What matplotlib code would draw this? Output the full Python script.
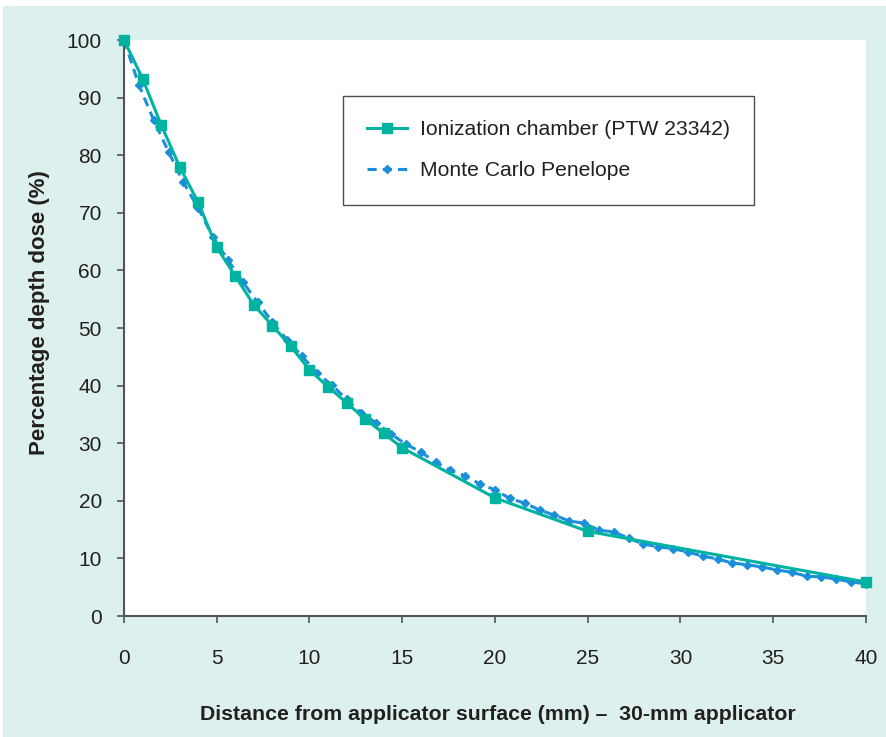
import matplotlib
matplotlib.use("Agg")
import matplotlib.pyplot as plt
from matplotlib.patches import Rectangle
import numpy as np

# ionization chamber measurements (PTW 23342)
chamber_x = [0, 1, 2, 3, 4, 5, 6, 7, 8, 9, 10, 11, 12, 13, 14, 15, 20, 25, 40]
chamber_y = [100, 93.3, 85.3, 78.0, 71.8, 64.0, 59.0, 54.0, 50.4, 46.8,
             42.7, 39.8, 37.0, 34.2, 31.7, 29.2, 20.5, 14.7, 5.9]

# Monte Carlo Penelope, 0.8 mm steps
mc_x = [0.0, 0.8, 1.6, 2.4, 3.2, 4.0, 4.8, 5.6, 6.4, 7.2, 8.0, 8.8, 9.6,
        10.4, 11.2, 12.0, 12.8, 13.6, 14.4, 15.2, 16.0, 16.8, 17.6, 18.4,
        19.2, 20.0, 20.8, 21.6, 22.4, 23.2, 24.0, 24.8, 25.6, 26.4, 27.2,
        28.0, 28.8, 29.6, 30.4, 31.2, 32.0, 32.8, 33.6, 34.4, 35.2, 36.0,
        36.8, 37.6, 38.4, 39.2, 40.0]
mc_y = [100, 92.2, 86.1, 80.6, 75.3, 70.8, 65.8, 61.8, 58.0, 54.5, 51.0,
        47.9, 45.1, 42.2, 40.1, 37.6, 35.2, 33.5, 31.6, 29.8, 28.5, 26.7,
        25.3, 24.3, 22.9, 21.9, 20.4, 19.6, 18.4, 17.5, 16.5, 16.1, 14.9,
        14.6, 13.5, 12.5, 12.0, 11.7, 11.1, 10.4, 9.9, 9.2, 8.9, 8.5, 8.0,
        7.6, 6.9, 6.8, 6.4, 5.9, 5.6]

x_ticks = [0, 5, 10, 15, 20, 25, 30, 35, 40]
y_ticks = [0, 10, 20, 30, 40, 50, 60, 70, 80, 90, 100]

teal = "#00b3a1"
blue = "#1b8fdb"
panel = "#dcf0ed"
txt = "#231f20"

plt.rcParams["font.family"] = ["Liberation Sans", "DejaVu Sans"]

W, H = 887, 737
fig = plt.figure(figsize=(W / 100, H / 100), dpi=100)
fig.patch.set_facecolor("white")
fig.patches.append(Rectangle((3 / W, 0), 1, 1 - 6 / H, transform=fig.transFigure,
                             facecolor=panel, edgecolor="none", zorder=-10))

ax = fig.add_axes([124 / W, 1 - 616 / H, (866 - 124) / W, (616 - 40) / H])
ax.set_facecolor("white")

ax.plot(mc_x, mc_y, color=blue, lw=2.2, linestyle=(0, (3, 2)),
        marker="D", markersize=4.5, clip_on=False, zorder=3,
        label="Monte Carlo Penelope")
ax.plot(chamber_x, chamber_y, color=teal, lw=2.2, marker="s",
        markersize=7.8, clip_on=False, zorder=4,
        label="Ionization chamber (PTW 23342)")

ax.set_xlim(0, 40)
ax.set_ylim(0, 100)
ax.set_xticks(x_ticks)
ax.set_yticks(y_ticks)

for s in ["top", "right"]:
    ax.spines[s].set_visible(False)
for s in ["left", "bottom"]:
    ax.spines[s].set_color("#555555")
    ax.spines[s].set_linewidth(1.5)

ax.tick_params(axis="x", direction="out", length=5, width=1.2, color="#555555",
               pad=19, labelsize=15, labelcolor=txt)
ax.tick_params(axis="y", direction="out", length=5, width=1.2, color="#555555",
               pad=11, labelsize=15, labelcolor=txt)

handles, labels = ax.get_legend_handles_labels()
leg = ax.legend(handles[::-1], labels[::-1], loc="upper left",
                bbox_to_anchor=((343 - 124) / 742, (616 - 96) / 576),
                borderaxespad=0, frameon=True, fancybox=False,
                fontsize=15.2, handlelength=1.9, handletextpad=0.6,
                labelspacing=1.05, borderpad=1.15)
leg.get_frame().set_edgecolor("#222222")
leg.get_frame().set_linewidth(1.0)
for t in leg.get_texts():
    t.set_color(txt)

fig.text(498 / W, 1 - 714 / H, "Distance from applicator surface (mm) \u2013  30-mm applicator",
         ha="center", va="center", fontsize=15.3, fontweight="bold", color=txt)
fig.text(40 / W, 1 - 313 / H, "Percentage depth dose (%)", rotation=90,
         ha="center", va="center", fontsize=16, fontweight="bold", color=txt)

fig.savefig("out.png", dpi=100, facecolor=fig.get_facecolor())
